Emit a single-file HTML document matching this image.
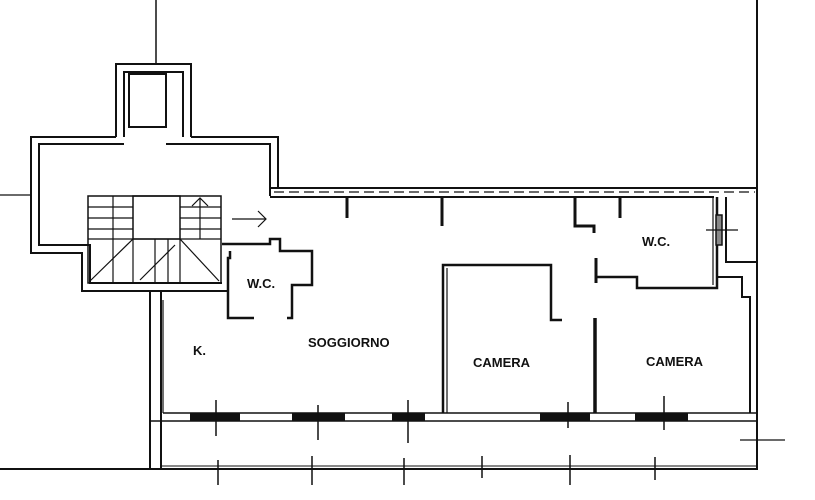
<!DOCTYPE html>
<html><head><meta charset="utf-8"><style>
html,body{margin:0;padding:0;background:#fff;width:815px;height:500px;overflow:hidden}
svg{display:block}
text{font-family:"Liberation Sans",sans-serif;font-weight:bold;font-size:13px;fill:#111}
</style></head><body>
<svg width="815" height="500" viewBox="0 0 815 500" xmlns="http://www.w3.org/2000/svg">
<g stroke="#111" fill="none" stroke-width="2">
<!-- top vertical line -->
<line x1="156" y1="0" x2="156" y2="64" stroke-width="1.5"/>
<!-- tower -->
<polyline points="116,137 116,64 191,64 191,137"/>
<polyline points="124,137 124,72 183,72 183,137"/>
<rect x="129" y="74" width="37" height="53"/>
<!-- hall outer -->
<polyline points="116,137 31,137 31,253 82,253 82,291 228,291"/>
<polyline points="124,144 39,144 39,245 90,245 90,283 222,283"/>
<polyline points="191,137 278,137 278,188"/>
<polyline points="166,144 270,144 270,196"/>
<line x1="0" y1="195" x2="31" y2="195" stroke-width="1.2"/>
<!-- stair -->
<rect x="88" y="196" width="133" height="87" stroke-width="1.5"/>
<rect x="133" y="196" width="47" height="43" stroke-width="1.5"/>
<g stroke-width="1.2">
<line x1="113" y1="196" x2="113" y2="283"/>
<line x1="88" y1="207" x2="133" y2="207"/><line x1="88" y1="218" x2="133" y2="218"/><line x1="88" y1="229" x2="133" y2="229"/>
<line x1="180" y1="207" x2="221" y2="207"/><line x1="180" y1="218" x2="221" y2="218"/><line x1="180" y1="229" x2="221" y2="229"/>
<line x1="88" y1="239" x2="221" y2="239"/>
<line x1="133" y1="239" x2="90" y2="281"/><line x1="180" y1="239" x2="219" y2="281"/>
<line x1="133" y1="239" x2="133" y2="283"/><line x1="155" y1="239" x2="155" y2="283"/><line x1="168" y1="239" x2="168" y2="283"/><line x1="180" y1="239" x2="180" y2="283"/>
<line x1="200" y1="198" x2="200" y2="239"/><polyline points="192,206 200,198 208,206"/>
<line x1="140" y1="280" x2="175" y2="245"/>
<line x1="232" y1="219" x2="266" y2="219"/><polyline points="258,211 266,219 258,227"/>
</g>
<!-- top wall -->
<line x1="270" y1="188" x2="757" y2="188"/>
<line x1="270" y1="197" x2="714" y2="197"/>
<line x1="274" y1="192" x2="755" y2="192" stroke-width="1.2" stroke-dasharray="10,5"/>
<!-- stubs -->
<line x1="347" y1="197" x2="347" y2="218" stroke-width="3"/>
<line x1="442" y1="197" x2="442" y2="226" stroke-width="3"/>
<polyline points="575,197 575,226 594,226 594,233" stroke-width="3"/>
<line x1="620" y1="197" x2="620" y2="218" stroke-width="3"/>
<!-- WC left -->
<polyline points="222,244 270,244 270,239 280,239 280,251 312,251 312,285 292,285 292,318 287,318" stroke-width="2.5"/>
<polyline points="230,251 230,258 228,258 228,318 254,318" stroke-width="2.5"/>
<!-- camera1 -->
<polyline points="443,413 443,265 551,265 551,320 562,320" stroke-width="2.5"/>
<line x1="447" y1="268" x2="447" y2="413" stroke-width="1.2"/>
<line x1="595" y1="318" x2="595" y2="413" stroke-width="3.5"/>
<!-- WC2 -->
<polyline points="596,258 596,283" stroke-width="3"/>
<polyline points="596,277 637,277 637,288 717,288 717,197" stroke-width="2.5"/>
<line x1="713" y1="197" x2="713" y2="285" stroke-width="1.2"/>
<polyline points="726,197 726,262 757,262" stroke-width="2"/>
<rect x="716" y="215" width="6" height="30" fill="#888" stroke-width="1.5"/>
<line x1="706" y1="230" x2="738" y2="230" stroke-width="1.2"/>
<!-- camera2 right -->
<polyline points="717,277 742,277 742,297 750,297 750,413" stroke-width="2"/>
<!-- right wall -->
<line x1="757" y1="0" x2="757" y2="470" stroke-width="2"/>
<line x1="740" y1="440" x2="785" y2="440" stroke-width="1.2"/>
<!-- left walls -->
<line x1="150" y1="291" x2="150" y2="470"/>
<line x1="161" y1="291" x2="161" y2="470"/>
<line x1="163" y1="300" x2="163" y2="413" stroke-width="1.2"/>
<!-- bottom -->
<line x1="163" y1="413" x2="757" y2="413" stroke-width="1.5"/>
<line x1="150" y1="421" x2="757" y2="421" stroke-width="1.5"/>
<line x1="0" y1="469" x2="757" y2="469" stroke-width="2"/>
<line x1="160" y1="466" x2="757" y2="466" stroke-width="1"/>
</g>
<g fill="#111">
<rect x="190" y="413" width="50" height="8"/><rect x="292" y="413" width="53" height="8"/><rect x="392" y="413" width="33" height="8"/>
<rect x="540" y="413" width="50" height="8"/><rect x="635" y="413" width="53" height="8"/>
</g>
<g stroke="#111" stroke-width="1.5">
<line x1="216" y1="400" x2="216" y2="436"/><line x1="318" y1="405" x2="318" y2="440"/><line x1="408" y1="400" x2="408" y2="443"/>
<line x1="568" y1="402" x2="568" y2="428"/><line x1="664" y1="396" x2="664" y2="430"/>
<line x1="218" y1="460" x2="218" y2="485"/><line x1="312" y1="456" x2="312" y2="485"/><line x1="404" y1="458" x2="404" y2="485"/>
<line x1="482" y1="456" x2="482" y2="478"/><line x1="570" y1="455" x2="570" y2="485"/><line x1="655" y1="457" x2="655" y2="480"/>
</g>
<text x="247" y="288">W.C.</text>
<text x="193" y="355">K.</text>
<text x="308" y="347">SOGGIORNO</text>
<text x="473" y="367">CAMERA</text>
<text x="646" y="366">CAMERA</text>
<text x="642" y="246">W.C.</text>
</svg>
</body></html>
